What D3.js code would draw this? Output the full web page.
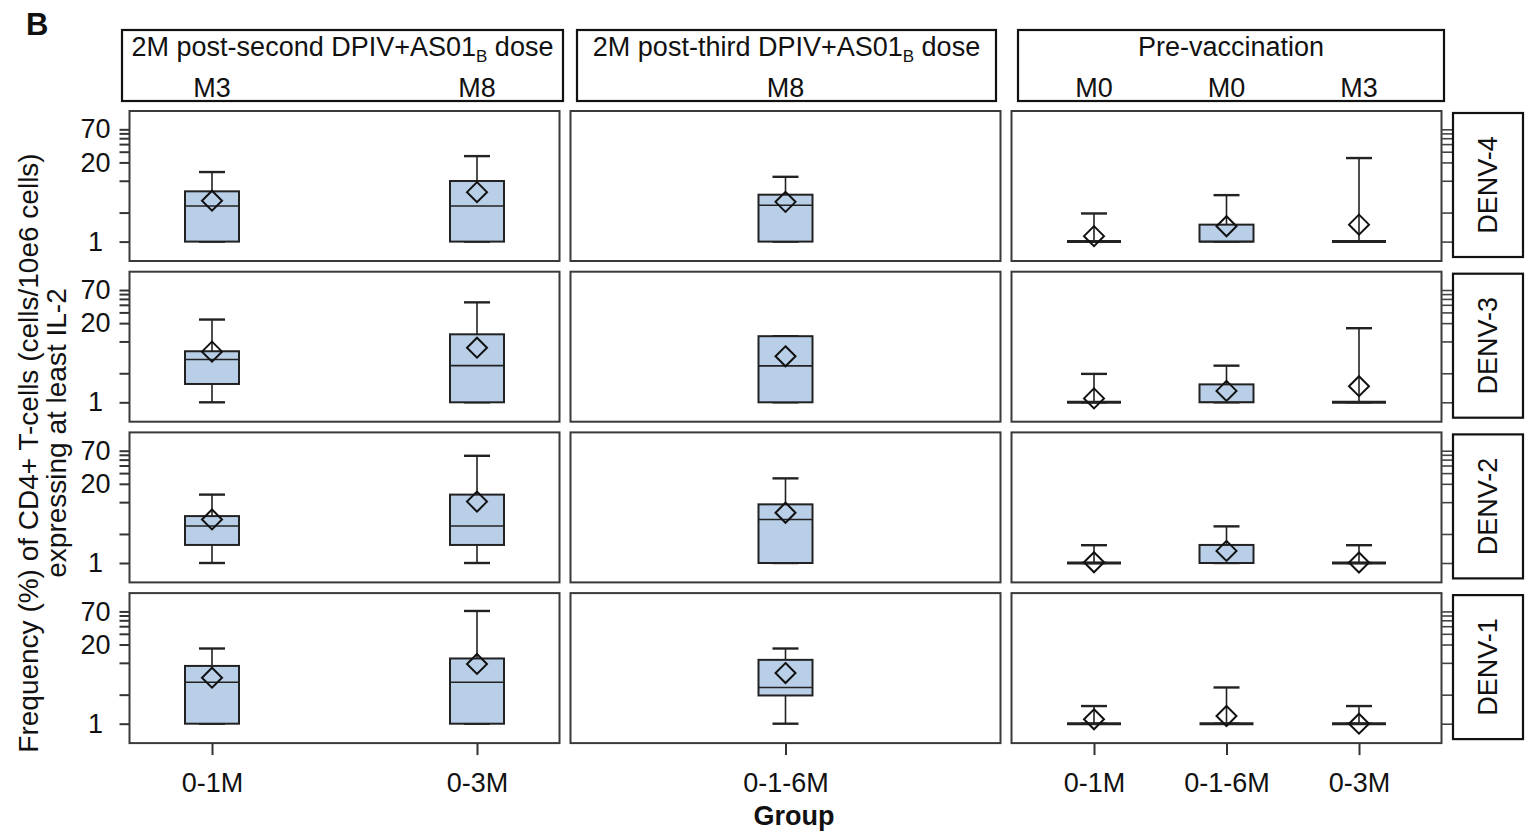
<!DOCTYPE html>
<html>
<head>
<meta charset="utf-8">
<script src="https://cdn.jsdelivr.net/npm/d3@7"></script>
<style>
  body { margin: 0; background: #fff; }
  svg { display: block; }
  text { font-family: "Liberation Sans", Arial, sans-serif; fill: #111; }
</style>
</head>
<body>
<svg id="chart" width="1531" height="837"></svg>
<script>
// ---- data -------------------------------------------------------------
const doseTitles = ["2M post-second DPIV+AS01", "2M post-third DPIV+AS01", "Pre-vaccination"];
const doseSubscripts = ["B", "B", ""];
const doseSuffix = [" dose", " dose", ""];
const groups = [["0-1M", "0-3M"], ["0-1-6M"], ["0-1M", "0-1-6M", "0-3M"]];
const timepoints = [["M3", "M8"], ["M8"], ["M0", "M0", "M3"]];
const serotypes = ["DENV-4", "DENV-3", "DENV-2", "DENV-1"];

// per group, left to right: [lower whisker, Q1, median, Q3, upper whisker, mean]
const denv4 = [
  [1, 1, 3.85, 6.7, 13.9, 4.7], [1, 1, 3.85, 9.9, 25.4, 6.5],
  [1, 1, 3.95, 5.9, 11.6, 4.5],
  [1, 1, 1, 1, 2.9, 1.23], [1, 1, 1, 1.9, 5.8, 1.79], [1, 1, 1, 1, 23.6, 1.9]
];
const denv3 = [
  [1, 2.0, 5.05, 6.9, 22.9, 6.8], [1, 1, 4.0, 13.1, 43.9, 7.9],
  [1, 1, 3.97, 12.2, 12.2, 5.7],
  [1, 1, 1, 1, 2.93, 1.16], [1, 1, 1, 1.97, 4.0, 1.54], [1, 1, 1, 1, 16.5, 1.84]
];
const denv2 = [
  [1, 1.98, 4.06, 5.9, 13.3, 5.2], [1, 1.98, 4.06, 13.3, 57.8, 10.2],
  [1, 1, 5.2, 9.2, 24.6, 6.7],
  [1, 1, 1, 1, 1.96, 1.03], [1, 1, 1, 1.98, 4.0, 1.58], [1, 1, 1, 1, 1.96, 1.02]
];
const denv1 = [
  [1, 1, 4.8, 8.9, 17.2, 5.7], [1, 1, 4.8, 11.8, 71.2, 9.6],
  [1, 2.91, 3.94, 11.2, 17.2, 6.8],
  [1, 1, 1, 1, 1.95, 1.18], [1, 1, 1, 1, 3.94, 1.34], [1, 1, 1, 1, 1.95, 1.0]
];
const rowStats = [denv4, denv3, denv2, denv1];

const yTicks = [1, 3, 10, 20, 30, 40, 50, 60, 70];
const yTickLabels = [1, 20, 70];
const yDomain = [0.48, 140];

// ---- layout -----------------------------------------------------------
const svg = d3.select("#chart");
const panelW = 430, panelH = 150, colGap = 11, rowPitch = 160.7;
const panelLeft = 129.5, panelTop = 111;
const pad = 82.5;               // distance from panel edge to outer category
const boxW = 54, capW = 26, diamond = 10;
const headerBoxes = [[122, 563], [577, 996], [1018, 1444]];
const headerTop = 30, headerBottom = 101;
const stripX = 1453, stripW = 70;
const fill = "#b9cfe8", ink = "#222";

const colX = i => panelLeft + i * (panelW + colGap);
const rowY = j => panelTop + j * rowPitch;

const xScales = groups.map((g, i) =>
  d3.scalePoint().domain(d3.range(g.length)).range([colX(i) + pad, colX(i) + panelW - pad]));
const y = d3.scaleLog().domain(yDomain).range([panelH, 0]);

// ---- panel label ------------------------------------------------------
svg.append("text").attr("x", 26).attr("y", 35)
  .attr("font-size", 31).attr("font-weight", "bold").text("B");

// ---- column headers ---------------------------------------------------
headerBoxes.forEach(([a, b], i) => {
  svg.append("rect").attr("x", a).attr("y", headerTop)
    .attr("width", b - a).attr("height", headerBottom - headerTop)
    .attr("fill", "#fff").attr("stroke", "#111").attr("stroke-width", 2.2);
  const t = svg.append("text").attr("x", (a + b) / 2).attr("y", 56)
    .attr("text-anchor", "middle").attr("font-size", 27);
  t.append("tspan").text(doseTitles[i]);
  if (doseSubscripts[i]) {
    t.append("tspan").attr("font-size", 17).attr("dy", 6).text(doseSubscripts[i]);
    t.append("tspan").attr("dy", -6).text(doseSuffix[i]);
  }
  timepoints[i].forEach((tp, k) => {
    svg.append("text").attr("x", xScales[i](k)).attr("y", 97)
      .attr("text-anchor", "middle").attr("font-size", 27).text(tp);
  });
});

// ---- panels -----------------------------------------------------------
serotypes.forEach((sero, j) => {
  const stats = rowStats[j];
  let idx = 0;
  groups.forEach((g, i) => {
    const gp = svg.append("g").attr("transform", `translate(0,${rowY(j)})`);
    gp.append("rect").attr("x", colX(i)).attr("y", 0)
      .attr("width", panelW).attr("height", panelH).attr("fill", "#fff");

    g.forEach((name, k) => {
      const [lo, q1, med, q3, hi, mean] = stats[idx++];
      const cx = xScales[i](k);
      // whiskers
      gp.append("line").attr("x1", cx).attr("x2", cx).attr("y1", y(q3)).attr("y2", y(hi))
        .attr("stroke", ink).attr("stroke-width", 1.6);
      gp.append("line").attr("x1", cx).attr("x2", cx).attr("y1", y(q1)).attr("y2", y(lo))
        .attr("stroke", ink).attr("stroke-width", 1.6);
      [hi, lo].forEach(v => gp.append("line")
        .attr("x1", cx - capW / 2).attr("x2", cx + capW / 2).attr("y1", y(v)).attr("y2", y(v))
        .attr("stroke", ink).attr("stroke-width", 2.4));
      // box
      gp.append("rect").attr("x", cx - boxW / 2).attr("y", y(q3))
        .attr("width", boxW).attr("height", y(q1) - y(q3))
        .attr("fill", fill).attr("stroke", ink).attr("stroke-width", 2);
      // median
      gp.append("line").attr("x1", cx - boxW / 2).attr("x2", cx + boxW / 2)
        .attr("y1", y(med)).attr("y2", y(med))
        .attr("stroke", ink).attr("stroke-width", q1 === q3 ? 3 : 1.6);
      // mean
      const my = y(mean);
      gp.append("path")
        .attr("d", `M${cx},${my - diamond}L${cx + diamond},${my}L${cx},${my + diamond}L${cx - diamond},${my}Z`)
        .attr("fill", "none").attr("stroke", "#111").attr("stroke-width", 2);
    });

    gp.append("rect").attr("x", colX(i)).attr("y", 0)
      .attr("width", panelW).attr("height", panelH)
      .attr("fill", "none").attr("stroke", "#3a3a3a").attr("stroke-width", 2);
  });

  // left axis
  const la = svg.append("g").attr("transform", `translate(${colX(0)},${rowY(j)})`)
    .call(d3.axisLeft(y).tickValues(yTicks).tickSize(10)
      .tickFormat(d => yTickLabels.includes(d) ? d : ""));
  la.select(".domain").remove();
  la.selectAll(".tick line").attr("stroke", "#333").attr("stroke-width", 2);
  la.selectAll(".tick text").attr("x", -34).attr("text-anchor", "middle")
    .attr("font-size", 27).attr("font-family", null).attr("fill", "#111");

  // right axis
  const ra = svg.append("g").attr("transform", `translate(${colX(2) + panelW},${rowY(j)})`)
    .call(d3.axisRight(y).tickValues(yTicks).tickSize(11).tickFormat(""));
  ra.select(".domain").remove();
  ra.selectAll(".tick line").attr("stroke", "#444").attr("stroke-width", 1.6);

  // serotype strip
  svg.append("rect").attr("x", stripX).attr("y", rowY(j) + 2)
    .attr("width", stripW).attr("height", panelH - 6)
    .attr("fill", "#fff").attr("stroke", "#111").attr("stroke-width", 2.2);
  svg.append("text")
    .attr("transform", `translate(${stripX + stripW / 2},${rowY(j) + panelH / 2 - 1}) rotate(-90)`)
    .attr("text-anchor", "middle").attr("dy", "0.35em").attr("font-size", 27).text(sero);
});

// ---- bottom axes ------------------------------------------------------
groups.forEach((g, i) => {
  const ba = svg.append("g").attr("transform", `translate(0,${rowY(3) + panelH})`)
    .call(d3.axisBottom(xScales[i]).tickSize(12).tickFormat(k => g[k]));
  ba.select(".domain").remove();
  ba.selectAll(".tick line").attr("stroke", "#333").attr("stroke-width", 2);
  ba.selectAll(".tick text").attr("y", 49).attr("dy", 0)
    .attr("font-size", 27).attr("font-family", null).attr("fill", "#111");
});

// ---- axis titles ------------------------------------------------------
svg.append("text").attr("x", 794).attr("y", 825).attr("text-anchor", "middle")
  .attr("font-size", 27).attr("font-weight", "bold").text("Group");
svg.append("text").attr("transform", "translate(28,453) rotate(-90)")
  .attr("text-anchor", "middle").attr("dy", "0.35em").attr("font-size", 28)
  .text("Frequency (%) of CD4+ T-cells (cells/10e6 cells)");
svg.append("text").attr("transform", "translate(56,433) rotate(-90)")
  .attr("text-anchor", "middle").attr("dy", "0.35em").attr("font-size", 28)
  .text("expressing at least IL-2");
</script>
</body>
</html>
